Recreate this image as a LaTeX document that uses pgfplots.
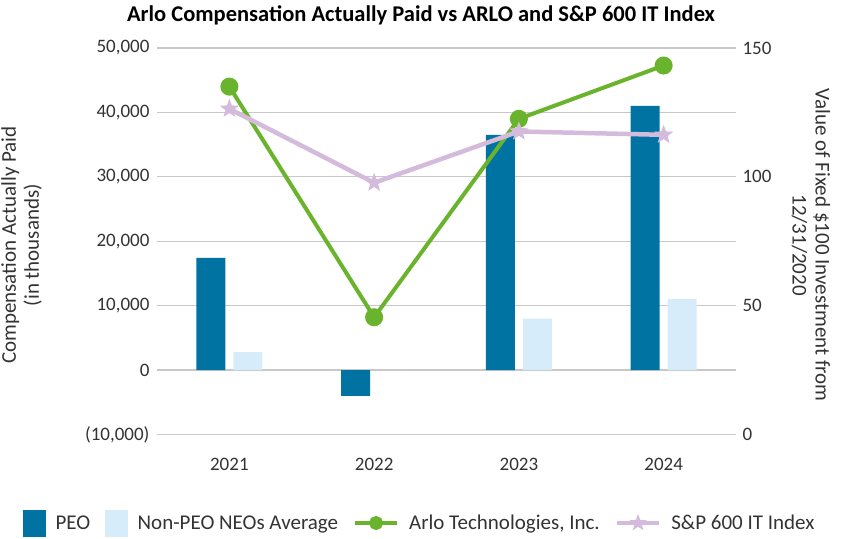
\documentclass[border=0pt]{standalone}
\usepackage{fontspec}
\setmainfont{Carlito}
\usepackage{pgfplots}
\pgfplotsset{compat=1.18}

\definecolor{peo}{HTML}{0073A3}
\definecolor{neo}{HTML}{D6ECFB}
\definecolor{arlo}{HTML}{6AB42D}
\definecolor{spx}{HTML}{D4BADB}
\definecolor{gridc}{HTML}{C8C8C8}
\definecolor{txt}{HTML}{333333}

% filled five-pointed star
\pgfdeclareplotmark{fstar}{%
  \pgfpathmoveto{\pgfpointpolar{90}{\pgfplotmarksize}}%
  \pgfpathlineto{\pgfpointpolar{126}{0.42\pgfplotmarksize}}%
  \pgfpathlineto{\pgfpointpolar{162}{\pgfplotmarksize}}%
  \pgfpathlineto{\pgfpointpolar{198}{0.42\pgfplotmarksize}}%
  \pgfpathlineto{\pgfpointpolar{234}{\pgfplotmarksize}}%
  \pgfpathlineto{\pgfpointpolar{270}{0.42\pgfplotmarksize}}%
  \pgfpathlineto{\pgfpointpolar{306}{\pgfplotmarksize}}%
  \pgfpathlineto{\pgfpointpolar{342}{0.42\pgfplotmarksize}}%
  \pgfpathlineto{\pgfpointpolar{18}{\pgfplotmarksize}}%
  \pgfpathlineto{\pgfpointpolar{54}{0.42\pgfplotmarksize}}%
  \pgfpathclose\pgfusepathqfill}

\newcommand{\tck}{\fontsize{19}{22}\selectfont}
\newcommand{\lbl}{\fontsize{21}{23}\selectfont}

\pgfplotsset{
  base/.style={
    scale only axis, width=579pt, height=386.5pt,
    at={(157pt,103.5pt)}, anchor=south west,
    xmin=-0.5, xmax=3.5,
    axis line style={draw=none},
    major tick length=0pt,
    tick label style={font=\tck, text=txt},
    clip=false,
  },
  lineleg/.style={legend image code/.code={%
    \draw[mark repeat=2, mark phase=2, ##1, mark size=#1]
      plot coordinates {(0pt,0pt) (21pt,0pt) (42pt,0pt)};}},
  barleg/.style={legend image code/.code={%
    \fill[#1] (0pt,-13pt) rectangle (22pt,13pt);}},
}

\begin{document}
\begin{tikzpicture}
\path[use as bounding box] (0,0) rectangle (842pt,538pt);

\node[font=\bfseries\fontsize{22.5}{24}\selectfont, text=black] at (421pt,523pt)
  {Arlo Compensation Actually Paid vs ARLO and S\&P 600 IT Index};

\begin{axis}[base,
  ymin=-10000, ymax=50000,
  scaled y ticks=false,
  ytick={-10000,0,...,50000},
  yticklabels={{(10,000)},{0},{10,000},{20,000},{30,000},{40,000},{50,000}},
  yticklabel style={xshift=-4pt},
  ymajorgrids, grid style={gridc, line width=1.3pt},
  xtick={0,1,2,3}, xticklabels={2021,2022,2023,2024},
  xticklabel style={yshift=-20pt},
  ybar=8pt, bar width=29pt,
  every axis y label/.style={at={(axis description cs:-0.2340,0.49)},
    rotate=90, anchor=center, align=center, font=\lbl, text=txt},
  ylabel={Compensation Actually Paid\\(in thousands)},
]
\addplot[fill=peo, draw=none] coordinates {(0,17400) (1,-4000) (2,36500) (3,41000)};
\addplot[fill=neo, draw=none] coordinates {(0,2800) (1,0) (2,8000) (3,11000)};
\end{axis}

\begin{axis}[base,
  ymin=0, ymax=150,
  ytick={0,50,100,150},
  yticklabels={0,50,100,150},
  axis y line*=right,
  yticklabel style={xshift=3pt},
  hide x axis,
  every axis y label/.style={at={(axis description cs:1.1295,0.49)},
    rotate=-90, anchor=center, align=center, font=\lbl, text=txt},
  ylabel={Value of Fixed \$100 Investment from\\12/31/2020},
  legend columns=4,
  legend style={at={(axis description cs:-0.2315,-0.229)}, anchor=west,
    draw=none, fill=none, inner sep=0pt, font=\lbl, text=txt,
    /tikz/every odd column/.append style={column sep=8pt},
    /tikz/every even column/.append style={column sep=13pt}},
]
\addlegendimage{barleg=peo}
\addlegendentry{PEO}
\addlegendimage{barleg=neo}
\addlegendentry{Non-PEO NEOs Average}
\addplot[arlo, line width=4pt, mark=*, mark size=7pt, lineleg=5pt]
  coordinates {(0,135) (1,45.5) (2,122.5) (3,143.2)};
\addlegendentry{Arlo Technologies, Inc.}
\addplot[spx, line width=4.5pt, mark=fstar, mark size=10pt, lineleg=9pt]
  coordinates {(0,126.4) (1,97.7) (2,117.6) (3,116.3)};
\addlegendentry{S\&P 600 IT Index}
\end{axis}
\end{tikzpicture}
\end{document}
